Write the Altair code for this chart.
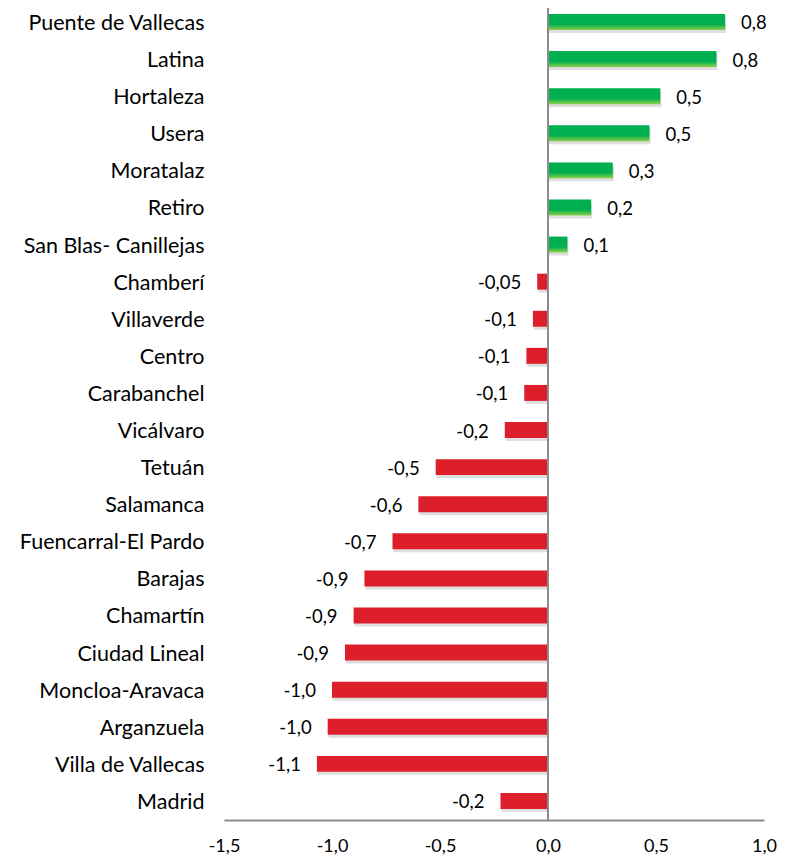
import altair as alt
import pandas as pd

districts = [
    "Puente de Vallecas", "Latina", "Hortaleza", "Usera", "Moratalaz", "Retiro",
    "San Blas- Canillejas", "Chamberí", "Villaverde", "Centro", "Carabanchel",
    "Vicálvaro", "Tetuán", "Salamanca", "Fuencarral-El Pardo", "Barajas",
    "Chamartín", "Ciudad Lineal", "Moncloa-Aravaca", "Arganzuela",
    "Villa de Vallecas", "Madrid",
]
values = [
    0.82, 0.78, 0.52, 0.47, 0.30, 0.20,
    0.09, -0.05, -0.07, -0.10, -0.11,
    -0.20, -0.52, -0.60, -0.72, -0.85,
    -0.90, -0.94, -1.00, -1.02,
    -1.07, -0.22,
]
labels = [
    "0,8", "0,8", "0,5", "0,5", "0,3", "0,2",
    "0,1", "-0,05", "-0,1", "-0,1", "-0,1",
    "-0,2", "-0,5", "-0,6", "-0,7", "-0,9",
    "-0,9", "-0,9", "-1,0", "-1,0",
    "-1,1", "-0,2",
]
x_ticks = [-1.5, -1.0, -0.5, 0.0, 0.5, 1.0]

df = pd.DataFrame({"district": districts, "value": values, "label": labels})

FONT = "Lato"
x_enc = alt.X(
    "value:Q",
    scale=alt.Scale(domain=[-1.5, 1.0], nice=False, zero=False),
    axis=alt.Axis(
        values=x_ticks, title=None, grid=False, ticks=False,
        domainColor="#8c8c8c", domainWidth=2, labelFlush=False,
        labelExpr="(datum.value < 0 ? '-' : '') + replace(format(abs(datum.value), '.1f'), '.', ',')",
        labelFont=FONT, labelFontSize=18, labelColor="#000000", labelPadding=17,
    ),
)
y_enc = alt.Y(
    "district:N", sort=districts,
    scale=alt.Scale(paddingInner=0.57, paddingOuter=0.23, align=0.352),
    axis=alt.Axis(
        title=None, domain=False, ticks=False, grid=False,
        labelFont=FONT, labelFontSize=21.5, labelColor="#000000", labelPadding=20,
        labelLimit=400, labelOffset=2,
    ),
)

base = alt.Chart(df)

shadow = base.mark_bar(color="#000000", opacity=0.13, yOffset=3, xOffset=1).encode(
    x=x_enc, x2=alt.datum(0), y=y_enc
)

green = alt.Gradient(
    gradient="linear",
    stops=[
        alt.GradientStop(color="#00B050", offset=0),
        alt.GradientStop(color="#00B050", offset=0.65),
        alt.GradientStop(color="#8ED04A", offset=1),
    ],
    x1=0, x2=0, y1=0, y2=1,
)

pos_bars = base.transform_filter("datum.value >= 0").mark_bar(color=green).encode(
    x=x_enc, x2=alt.datum(0), y=y_enc
)
neg_bars = base.transform_filter("datum.value < 0").mark_bar(color="#DC1F2A").encode(
    x=x_enc, x2=alt.datum(0), y=y_enc
)

zero_rule = base.mark_rule(color="#8c8c8c", strokeWidth=2).encode(
    x=alt.datum(0), y=alt.value(-5), y2=alt.value(812)
)

pos_text = base.transform_filter("datum.value >= 0").mark_text(
    align="left", baseline="middle", dx=16, dy=1.5, font=FONT, fontSize=18.5, color="#000000"
).encode(x=x_enc, y=y_enc, text="label:N")
neg_text = base.transform_filter("datum.value < 0").mark_text(
    align="right", baseline="middle", dx=-16, dy=1.5, font=FONT, fontSize=18.5, color="#000000"
).encode(x=x_enc, y=y_enc, text="label:N")

chart = alt.layer(shadow, pos_bars, neg_bars, zero_rule, pos_text, neg_text).properties(
    width=540, height=812,
    background="white",
    autosize=alt.AutoSizeParams(type="none"),
    padding={"left": 216, "top": 0, "right": 20, "bottom": 36},
).configure_view(stroke="transparent")

chart.save("out.html", embed_options={"renderer": "svg", "actions": False})
